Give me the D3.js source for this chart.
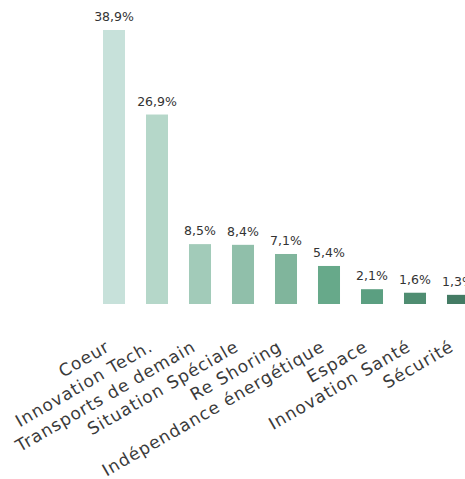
<!DOCTYPE html>
<html>
<head>
<meta charset="utf-8">
<script src="https://cdn.jsdelivr.net/npm/d3@7"></script>
<style>
body { margin: 0; background: #fff; }
svg { display: block; font-family: "DejaVu Sans", sans-serif; }
</style>
</head>
<body>
<svg width="465" height="479"></svg>
<script>
const categories = ["Coeur", "Innovation Tech.", "Transports de demain", "Situation Spéciale", "Re Shoring", "Indépendance énergétique", "Espace", "Innovation Santé", "Sécurité"];
const values = [38.9, 26.9, 8.5, 8.4, 7.1, 5.4, 2.1, 1.6, 1.3];
const colors = ["#c7e1da", "#b5d7c9", "#a2cbb9", "#90bfaa", "#80b59c", "#67a98a", "#5b9f81", "#4f8d71", "#447b64"];

let svg = d3.select("svg");

var x = d3.scaleBand()
    .domain(categories)
    .range([92.5, 479.5])
    .paddingInner(0.488)
    .paddingOuter(0.244);

var y = d3.scaleLinear()
    .domain([0, 38.9])
    .range([304, 30]);

// Bars
svg.selectAll("rect")
    .data(values)
    .enter()
    .append("rect")
    .attr("x", (d, i) => x(categories[i]))
    .attr("y", d => y(d))
    .attr("width", x.bandwidth())
    .attr("height", d => y(0) - y(d))
    .attr("fill", (d, i) => colors[i]);

// value labels
svg.selectAll(".val")
    .data(values)
    .enter()
    .append("text")
    .attr("class", "val")
    .attr("x", (d, i) => x(categories[i]) + x.bandwidth() / 2)
    .attr("y", d => y(d) - 9)
    .attr("text-anchor", "middle")
    .style("font-size", "12.5px")
    .style("fill", "#333")
    .text(d => d.toFixed(1).replace(".", ",") + "%");

// X axis
let xAxis = svg.append("g")
    .attr("transform", "translate(-3,350)")
    .call(d3.axisBottom(x).tickSize(0).tickPadding(0));

xAxis.select(".domain").remove();
xAxis.selectAll("text")
    .attr("y", 0)
    .attr("dy", 0)
    .attr("transform", "rotate(-30)")
    .style("text-anchor", "end")
    .style("font-family", "DejaVu Sans, sans-serif")
    .style("font-size", "17px")
    .style("letter-spacing", "1px")
    .style("fill", "#3a3a3a");
</script>
</body>
</html>
